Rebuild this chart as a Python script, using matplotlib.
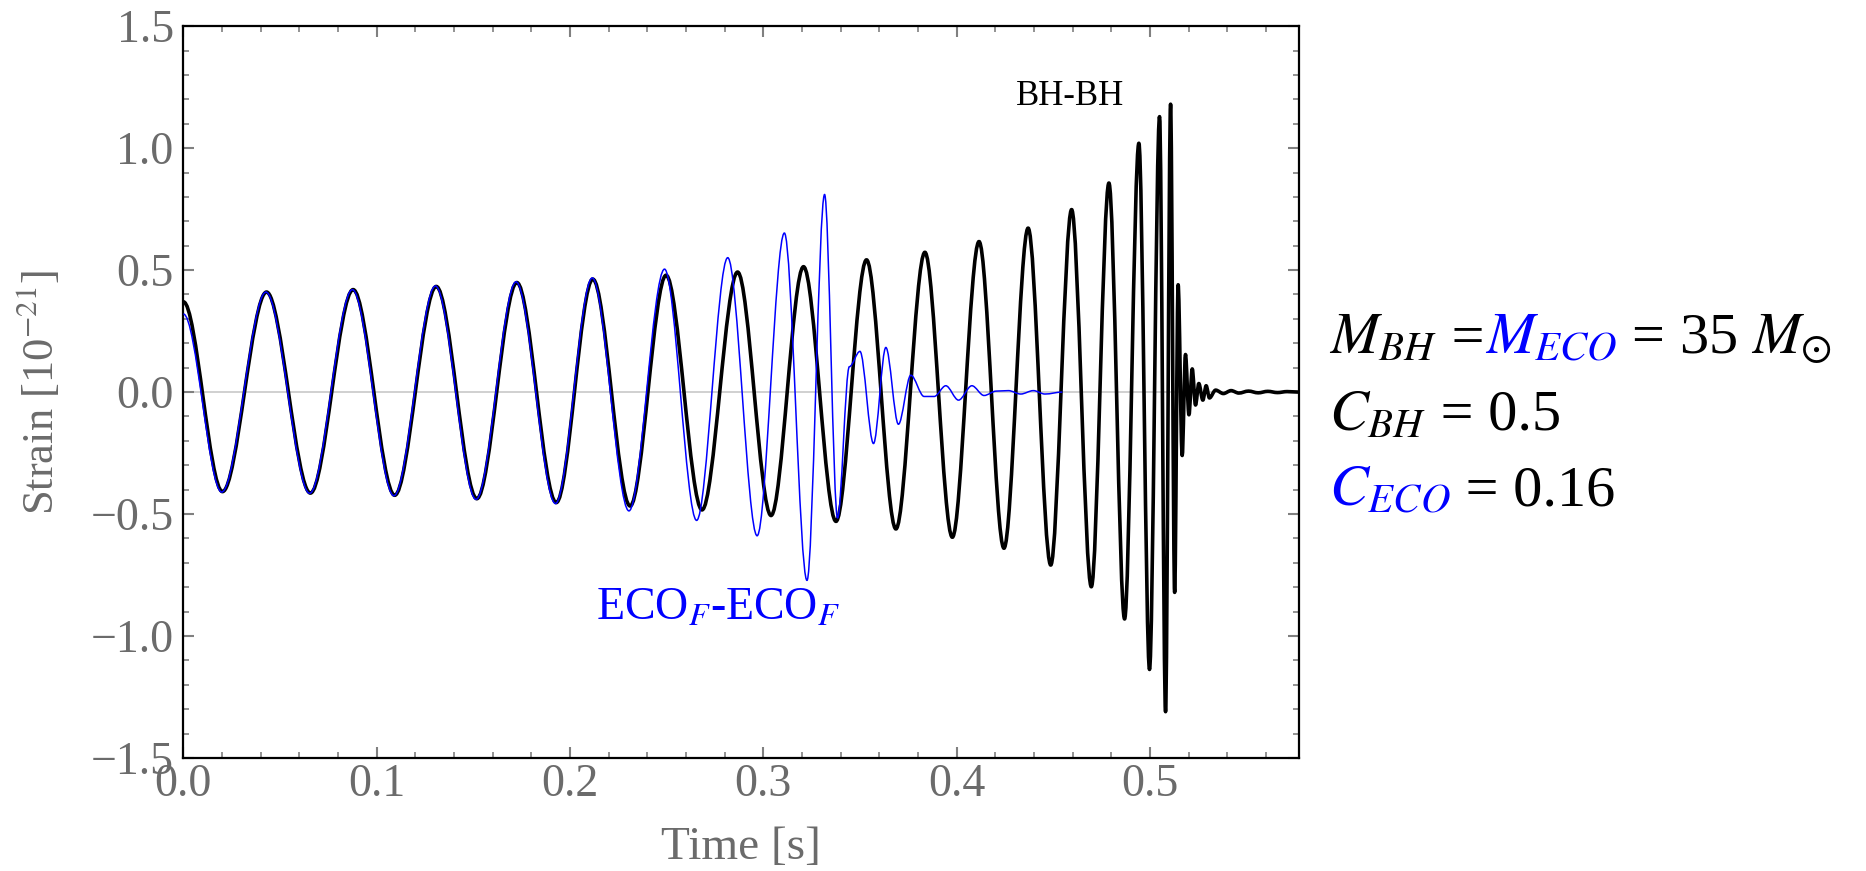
import matplotlib
matplotlib.use('Agg')
import matplotlib.pyplot as plt
from matplotlib.path import Path
from matplotlib.patches import PathPatch
from matplotlib.offsetbox import TextArea, HPacker, VPacker, AnchoredOffsetbox
from matplotlib.ticker import MultipleLocator, FixedLocator

plt.rcParams['font.family'] = ['Liberation Serif', 'DejaVu Serif']
plt.rcParams['mathtext.fontset'] = 'stix'

# turning points of the waveforms: time [s], strain [1e-21]
bh_t = [0.0, 0.0202, 0.043, 0.0657, 0.0878, 0.1093, 0.1308, 0.1518, 0.1725, 0.1929,
        0.2118, 0.2311, 0.2497, 0.2683, 0.2867, 0.304, 0.3208, 0.3376, 0.3534, 0.3686,
        0.3836, 0.3978, 0.4116, 0.4245, 0.437, 0.4487, 0.4595, 0.4697, 0.4788, 0.4869,
        0.4943, 0.4998, 0.505, 0.5081, 0.5107, 0.5128, 0.5146, 0.5167, 0.5184, 0.5202,
        0.5219, 0.5236, 0.5253, 0.5274, 0.5291, 0.5308, 0.534, 0.538, 0.542, 0.546,
        0.551, 0.556, 0.561, 0.566, 0.571, 0.577]
bh_h = [0.37, -0.408, 0.41, -0.414, 0.42, -0.423, 0.433, -0.437, 0.449, -0.453,
        0.463, -0.467, 0.479, -0.483, 0.492, -0.506, 0.514, -0.53, 0.542, -0.561,
        0.573, -0.595, 0.617, -0.64, 0.672, -0.709, 0.748, -0.798, 0.857, -0.93,
        1.02, -1.137, 1.129, -1.31, 1.18, -0.821, 0.44, -0.26, 0.154, -0.093,
        0.095, -0.053, 0.035, -0.033, 0.026, -0.024, 0.008, -0.006, 0.006, -0.004,
        0.004, -0.003, 0.003, -0.002, 0.002, 0.0]

eco_t = [0.0, 0.0198, 0.0427, 0.0653, 0.0874, 0.1089, 0.1304, 0.1514, 0.1721, 0.1925,
         0.2115, 0.2305, 0.2489, 0.2655, 0.2816, 0.2968, 0.3109, 0.3226, 0.3317, 0.3384,
         0.3445, 0.350, 0.357, 0.3634, 0.3699, 0.3763, 0.3832, 0.3884, 0.3944, 0.401,
         0.4079, 0.4142, 0.4205, 0.4268, 0.4332, 0.4397, 0.4457, 0.4547]
eco_h = [0.32, -0.41, 0.41, -0.415, 0.42, -0.425, 0.435, -0.44, 0.452, -0.457,
         0.468, -0.487, 0.504, -0.526, 0.551, -0.589, 0.652, -0.772, 0.81, -0.516,
         0.104, 0.167, -0.211, 0.183, -0.132, 0.069, -0.018, -0.018, 0.026, -0.033,
         0.026, -0.014, 0.004, 0.006, -0.008, 0.006, -0.008, 0.0]

y_ticks = [-1.5, -1.0, -0.5, 0.0, 0.5, 1.0, 1.5]
y_labels = ['\u22121.5', '\u22121.0', '\u22120.5', '0.0', '0.5', '1.0', '1.5']
x_ticks = [0.0, 0.1, 0.2, 0.3, 0.4, 0.5]
x_labels = ['0.0', '0.1', '0.2', '0.3', '0.4', '0.5']

GRAY = '#6b6b6b'
BLUE = '#0000ff'


def wave_path(t, h):
    # smooth curve through the turning points (flat tangent at each one)
    verts = [(t[0], h[0])]
    codes = [Path.MOVETO]
    for i in range(1, len(t)):
        dt = t[i] - t[i - 1]
        verts += [(t[i - 1] + dt / 3, h[i - 1]), (t[i] - dt / 3, h[i]), (t[i], h[i])]
        codes += [Path.CURVE4] * 3
    return Path(verts, codes)


fig = plt.figure(figsize=(18.66, 8.71), dpi=100)
ax = fig.add_axes([0.0983, 0.1297, 0.5977, 0.8403])

ax.axhline(0, color='#c8c8c8', lw=1.2, zorder=0)
ax.add_patch(PathPatch(wave_path(bh_t, bh_h), fill=False, edgecolor='black',
                       lw=2.6, joinstyle='round', zorder=2))
ax.add_patch(PathPatch(wave_path(eco_t, eco_h), fill=False, edgecolor=BLUE,
                       lw=1.1, joinstyle='round', zorder=3))

ax.set_xlim(0, 0.577)
ax.set_ylim(-1.5, 1.5)
ax.xaxis.set_major_locator(FixedLocator(x_ticks))
ax.set_xticklabels(x_labels)
ax.xaxis.set_minor_locator(MultipleLocator(0.02))
ax.yaxis.set_major_locator(FixedLocator(y_ticks))
ax.set_yticklabels(y_labels)
ax.yaxis.set_minor_locator(MultipleLocator(0.1))

ax.tick_params(which='both', direction='in', top=True, right=True,
               color='#808080', labelcolor=GRAY, labelsize=33)
ax.tick_params(which='major', length=8, width=1.5)
ax.tick_params(which='minor', length=4.5, width=1.2)
ax.tick_params(axis='x', pad=4)
ax.tick_params(axis='y', pad=7)
for s in ax.spines.values():
    s.set_linewidth(1.6)
    s.set_color('black')

ax.set_xlabel('Time [s]', fontsize=34, color=GRAY, labelpad=15)
ax.set_ylabel('Strain [10$^{-21}$]', fontsize=32, color=GRAY)
ax.yaxis.set_label_coords(-0.109, 0.5)

ax.text(0.4587, 1.21, 'BH-BH', fontsize=25, color='black', ha='center', va='center')
ax.text(0.2767, -0.885, 'ECO$_{F}$-ECO$_{F}$', fontsize=33, color=BLUE,
        ha='center', va='center')


def piece(s, c):
    return TextArea(s, textprops=dict(color=c, fontsize=42))


line1 = HPacker(children=[piece(r'$M_{BH}$', 'black'), piece(' =', 'black'),
                          piece(r'$M_{ECO}$', BLUE), piece(r' = 35 $M_{\odot}$', 'black')],
                align='baseline', pad=0, sep=0)
line2 = HPacker(children=[piece(r'$C_{BH}$', 'black'), piece(' = 0.5', 'black')],
                align='baseline', pad=0, sep=0)
line3 = HPacker(children=[piece(r'$C_{ECO}$', BLUE), piece(' = 0.16', 'black')],
                align='baseline', pad=0, sep=0)
block = VPacker(children=[line1, line2, line3], align='left', pad=0, sep=17)
fig.add_artist(AnchoredOffsetbox(loc='upper left', child=block, pad=0, borderpad=0,
                                 frameon=False, bbox_to_anchor=(1329 / 1866, 1 - 312 / 871),
                                 bbox_transform=fig.transFigure))

fig.savefig('out.png', dpi=100)
